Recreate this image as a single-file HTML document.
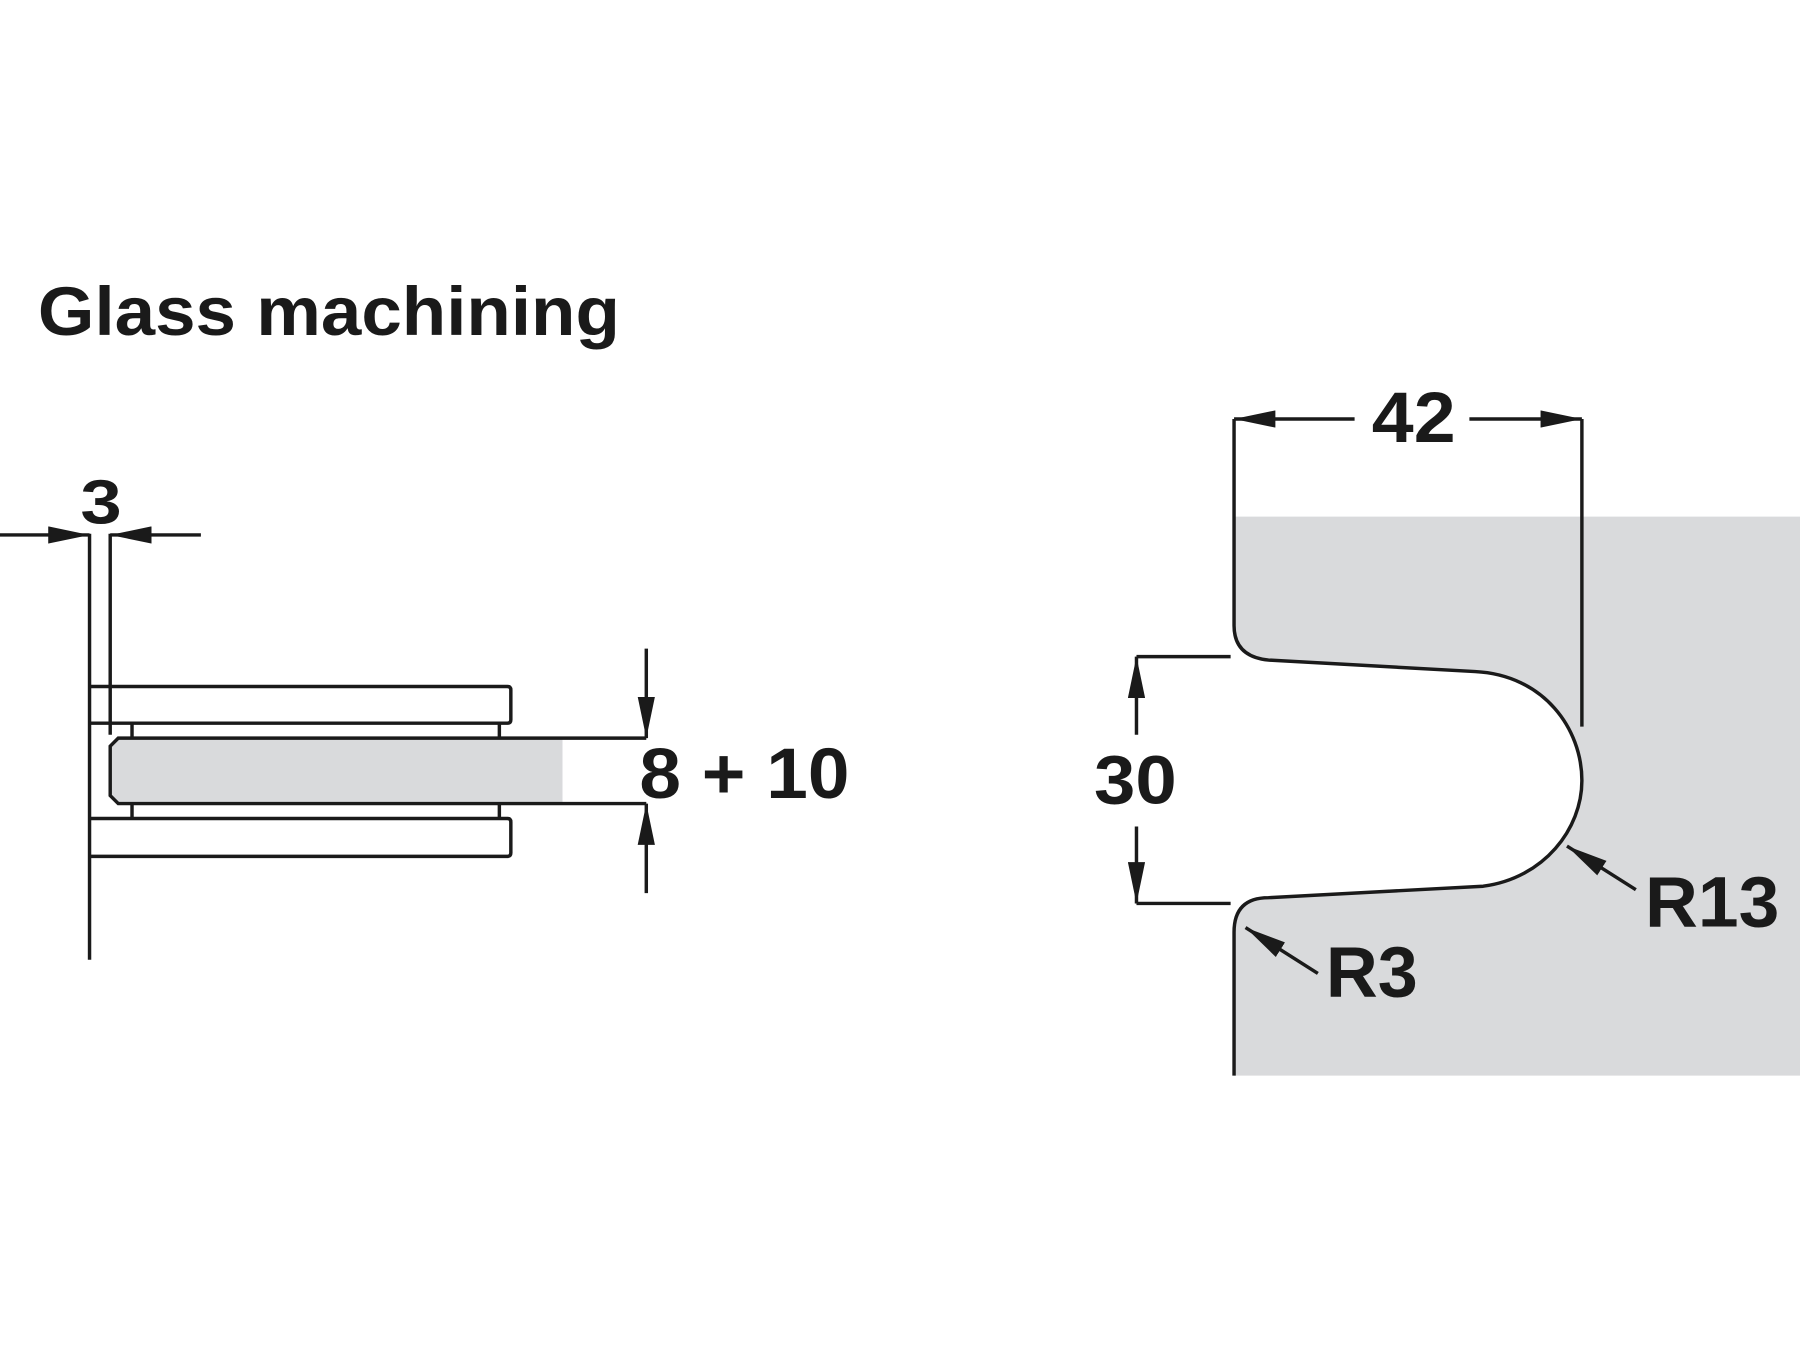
<!DOCTYPE html>
<html><head><style>html,body{margin:0;padding:0;background:#fff}svg{display:block}</style></head>
<body>
<svg width="1800" height="1350" viewBox="0 0 1568 1176" xmlns="http://www.w3.org/2000/svg" font-family="Liberation Sans, sans-serif" font-weight="bold" fill="#1a1a1a">
<defs>
<marker id="b" viewBox="0 0 10 10" refX="10" refY="5" markerWidth="36" markerHeight="15" markerUnits="userSpaceOnUse" orient="auto" preserveAspectRatio="none"><path d="M0,0 L10,5 L0,10 Z" fill="#1a1a1a"/></marker>
</defs>
<text x="33" y="292" font-size="60" textLength="507" lengthAdjust="spacingAndGlyphs">Glass machining</text>

<g stroke="#1a1a1a" stroke-width="3" fill="none">
<line x1="78" y1="465" x2="78" y2="836"/>
<line x1="96" y1="465" x2="96" y2="640"/>
<line x1="0" y1="466" x2="78" y2="466" marker-end="url(#b)"/>
<line x1="175" y1="466" x2="96" y2="466" marker-end="url(#b)"/>
<path d="M78,598 H442 Q445,598 445,601 V627 Q445,630 442,630 H78"/>
<path d="M78,713 H442 Q445,713 445,716 V743 Q445,746 442,746 H78"/>
<line x1="115" y1="630" x2="115" y2="643"/><line x1="435" y1="630" x2="435" y2="643"/>
<line x1="115" y1="700" x2="115" y2="713"/><line x1="435" y1="700" x2="435" y2="713"/>
<path d="M490,643 H103 L96,650 V693 L103,700 H490" fill="#d9dadc" stroke="none"/>
<path d="M563,643 H103 L96,650 V693 L103,700 H563"/>
<line x1="563" y1="565" x2="563" y2="643" marker-end="url(#b)"/>
<line x1="563" y1="778" x2="563" y2="700" marker-end="url(#b)"/>

<path d="M1075,450 H1568 V937 H1075 V812 Q1075,782 1105,782 L1292,772 C1345,765 1378,722 1378,680 C1378,635 1345,588 1285,585 L1105,575 Q1075,572 1075,545 Z" fill="#d9dadc" stroke="none"/>
<path d="M1075,937 V812 Q1075,782 1105,782 L1292,772 C1345,765 1378,722 1378,680 C1378,635 1345,588 1285,585 L1105,575 Q1075,572 1075,545 V365"/>
<line x1="1378" y1="365" x2="1378" y2="633"/>
<line x1="1180" y1="365" x2="1075" y2="365" marker-end="url(#b)"/>
<line x1="1280" y1="365" x2="1378" y2="365" marker-end="url(#b)"/>
<line x1="990" y1="572" x2="1072" y2="572"/>
<line x1="990" y1="787" x2="1072" y2="787"/>
<line x1="990" y1="640" x2="990" y2="572" marker-end="url(#b)"/>
<line x1="990" y1="720" x2="990" y2="787" marker-end="url(#b)"/>
<line x1="1425" y1="775" x2="1365" y2="737" marker-end="url(#b)"/>
<line x1="1148" y1="848" x2="1085" y2="808" marker-end="url(#b)"/>
</g>

<text x="70" y="456" font-size="54" textLength="36" lengthAdjust="spacingAndGlyphs">3</text>
<text x="557" y="695" font-size="62" textLength="183" lengthAdjust="spacingAndGlyphs">8 + 10</text>
<text x="1195" y="385" font-size="62" textLength="73" lengthAdjust="spacingAndGlyphs">42</text>
<text x="953" y="700" font-size="60" textLength="72" lengthAdjust="spacingAndGlyphs">30</text>
<text x="1433" y="807" font-size="62" textLength="117" lengthAdjust="spacingAndGlyphs">R13</text>
<text x="1155" y="868" font-size="62" textLength="80" lengthAdjust="spacingAndGlyphs">R3</text>
</svg>
</body></html>
